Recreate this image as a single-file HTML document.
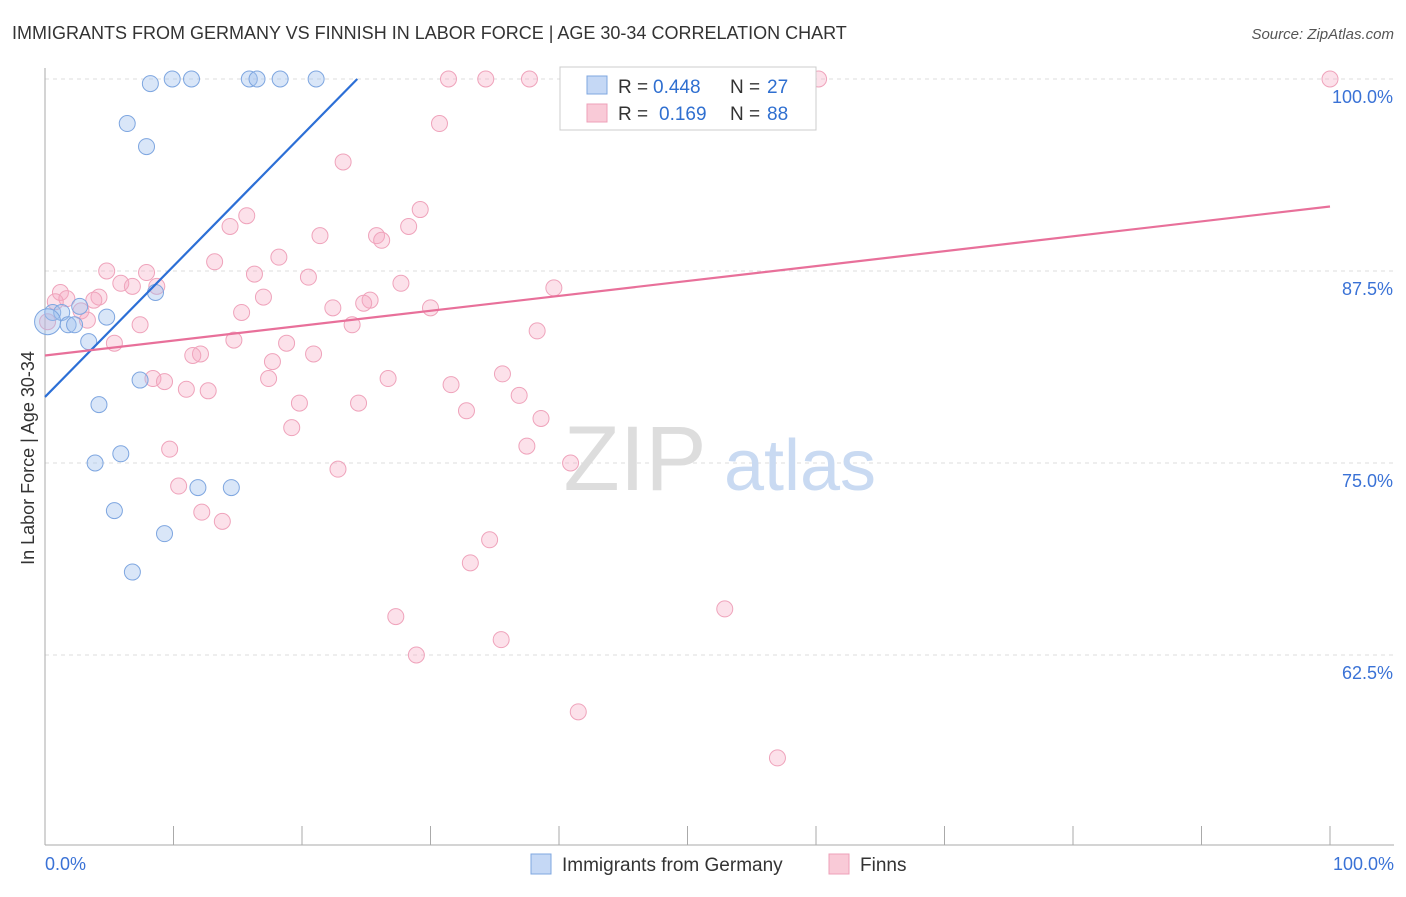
<!DOCTYPE html>
<html><head><meta charset="utf-8"><style>
body{margin:0;background:#fff;font-family:"Liberation Sans",sans-serif;}
svg text{font-family:"Liberation Sans",sans-serif;}
</style></head><body>
<svg id="chart" width="1406" height="892" xmlns="http://www.w3.org/2000/svg">
<text x="12" y="39" font-size="18" fill="#333">IMMIGRANTS FROM GERMANY VS FINNISH IN LABOR FORCE | AGE 30-34 CORRELATION CHART</text>
<text x="1394" y="39" font-size="15" fill="#555" font-style="italic" text-anchor="end">Source: ZipAtlas.com</text>
<text x="34" y="458" font-size="18" fill="#333" text-anchor="middle" transform="rotate(-90 34 458)">In Labor Force | Age 30-34</text>
<g id="grid"></g>
<g><text x="635" y="490" font-size="92" fill="#ddd" font-family="Liberation Serif" text-anchor="middle">ZIP</text><text x="800" y="490" font-size="72" fill="#c9daf2" text-anchor="middle">atlas</text></g>
<g id="axes"></g>
<g id="pinkPts"></g>
<g id="bluePts"></g>
<g id="lines"></g>
<g>
<rect x="560" y="67" width="256" height="63" fill="#fff" stroke="#ccc"/>
<rect x="587" y="76" width="20" height="18" fill="#c5d8f5" stroke="#7fa7e0"/>
<rect x="587" y="104" width="20" height="18" fill="#f9cad7" stroke="#eea0b8"/>
<text y="93" font-size="19" fill="#333"><tspan x="618">R =</tspan><tspan x="653" fill="#2f6fd0">0.448</tspan><tspan x="730">N =</tspan><tspan x="767" fill="#2f6fd0">27</tspan></text>
<text y="120" font-size="19" fill="#333"><tspan x="618">R =</tspan><tspan x="659" fill="#2f6fd0">0.169</tspan><tspan x="730">N =</tspan><tspan x="767" fill="#2f6fd0">88</tspan></text>
</g>
<g>
<rect x="531" y="854" width="20" height="20" fill="#c5d8f5" stroke="#7fa7e0"/>
<text x="562" y="871" font-size="19" fill="#333">Immigrants from Germany</text>
<rect x="829" y="854" width="20" height="20" fill="#f9cad7" stroke="#eea0b8"/>
<text x="860" y="871" font-size="19" fill="#333">Finns</text>
</g>
</svg>
<script>
const yTicks=[62.5,75,87.5,100];
const yTickLabels=["62.5%","75.0%","87.5%","100.0%"];
const xLabels=["0.0%","100.0%"];
const blueX=[8.2,9.9,11.4,15.9,16.5,18.3,21.1,6.4,7.9,8.6,4.8,0.6,1.3,1.8,2.3,3.4,7.4,4.2,5.9,3.9,11.9,14.5,5.4,9.3,6.8,0.2,2.7];
const blueY=[99.7,100,100,100,100,100,100,97.1,95.6,86.1,84.5,84.8,84.8,84.0,84.0,82.9,80.4,78.8,75.6,75.0,73.4,73.4,71.9,70.4,67.9,84.2,85.2];
const pinkX=[31.4,34.3,37.7,46.3,51.7,55.8,60.2,100,30.7,23.2,29.2,15.7,14.4,28.3,21.4,25.8,26.2,13.2,18.2,4.8,7.9,16.3,20.5,5.9,6.8,8.7,27.7,39.6,1.2,1.7,4.2,17.0,3.8,0.8,25.3,24.8,22.4,30.0,15.3,2.8,3.3,7.4,23.9,38.3,14.7,5.4,18.8,12.1,11.5,20.9,17.7,17.4,8.4,9.3,26.7,35.6,31.6,11.0,12.7,36.9,19.8,24.4,32.8,38.6,19.2,37.5,9.7,22.8,40.9,10.4,12.2,13.8,34.6,33.1,52.9,27.3,35.5,28.9,41.5,57.0,0.2];
const pinkY=[100,100,100,100,100,100,100,100,97.1,94.6,91.5,91.1,90.4,90.4,89.8,89.8,89.5,88.1,88.4,87.5,87.4,87.3,87.1,86.7,86.5,86.5,86.7,86.4,86.1,85.7,85.8,85.8,85.6,85.5,85.6,85.4,85.1,85.1,84.8,84.9,84.3,84.0,84.0,83.6,83.0,82.8,82.8,82.1,82.0,82.1,81.6,80.5,80.5,80.3,80.5,80.8,80.1,79.8,79.7,79.4,78.9,78.9,78.4,77.9,77.3,76.1,75.9,74.6,75.0,73.5,71.8,71.2,70.0,68.5,65.5,65.0,63.5,62.5,58.8,55.8,84.2];
const blueLine=[0,79.3,24.3,100];
const pinkLine=[0,82.0,100,91.7];
const X0=45,X1=1330,Y100=79,PX=15.36;
const sx=v=>X0+(X1-X0)*v/100, sy=v=>Y100+(100-v)*PX;
const NS="http://www.w3.org/2000/svg";
function mk(p,t,a){const e=document.createElementNS(NS,t);for(const k in a)e.setAttribute(k,a[k]);p.appendChild(e);return e;}
const grid=document.getElementById('grid'),axes=document.getElementById('axes');
yTicks.forEach((t,i)=>{
 const l=mk(grid,'line',{x1:45,x2:1394,y1:sy(t),y2:sy(t),stroke:'#ddd','stroke-dasharray':'4 4'});
 
 
 const tx=mk(axes,'text',{x:1393,y:sy(t)+24,'font-size':18,fill:'#3a72d6','text-anchor':'end'});tx.textContent=yTickLabels[i];
 
 
});
mk(axes,'line',{x1:45,x2:45,y1:68,y2:845,stroke:'#aaa'});
mk(axes,'line',{x1:45,x2:1394,y1:845,y2:845,stroke:'#aaa'});
for(let i=0;i<=10;i++){mk(axes,'line',{x1:sx(i*10),x2:sx(i*10),y1:826,y2:845,stroke:'#aaa'});}
[[45,'start'],[1394,'end']].forEach((p,i)=>{const t=mk(axes,'text',{x:p[0],y:870,'font-size':18,fill:'#3a72d6','text-anchor':p[1]});t.textContent=xLabels[i];
 
 });
const pg=document.getElementById('pinkPts');
pinkX.forEach((x,i)=>{const c=mk(pg,'circle',{cx:sx(x),cy:sy(pinkY[i]),r:8,fill:'rgba(246,170,194,0.35)',stroke:'#efa3bb','stroke-width':1});
 
 });
const bg=document.getElementById('bluePts');
blueX.forEach((x,i)=>{const c=mk(bg,'circle',{cx:sx(x),cy:sy(blueY[i]),r:i==25?13:8,fill:'rgba(160,192,238,0.4)',stroke:'#7ea6e0','stroke-width':1});
 
 });
const lg=document.getElementById('lines');
const bl=mk(lg,'line',{x1:sx(blueLine[0]),y1:sy(blueLine[1]),x2:sx(blueLine[2]),y2:sy(blueLine[3]),stroke:'#2c6fd6','stroke-width':2.2});


const pl=mk(lg,'line',{x1:sx(pinkLine[0]),y1:sy(pinkLine[1]),x2:sx(pinkLine[2]),y2:sy(pinkLine[3]),stroke:'#e8709a','stroke-width':2.2});


</script>
</body></html>
